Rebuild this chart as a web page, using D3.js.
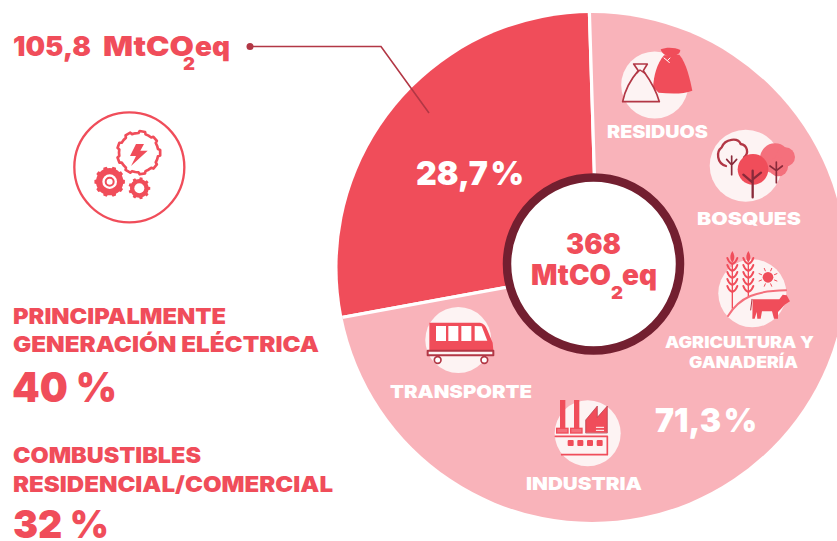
<!DOCTYPE html>
<html><head><meta charset="utf-8">
<script src="https://cdn.jsdelivr.net/npm/d3@7"></script>
<style>html,body{margin:0;padding:0;background:#fff;overflow:hidden}svg{display:block}
text{font-family:Inter,"Open Sans",sans-serif;font-weight:900}</style></head>
<body><svg id="c" width="837" height="541"></svg>
<script>
// Sector shares as published, and the shares as actually drawn in the picture
const sectorNames = ["Energía", "Otros sectores"];
const publishedPercent = ["28,7 %", "71,3 %"];
const drawnShare = [27.4, 72.6];
const sliceColors = ["#f04d5a", "#f9b3ba"];
const totalValue = "368";
const calloutValue = "105,8";
const unitParts = ["MtCO", "2", "eq"];
const sectorLabels = ["RESIDUOS", "BOSQUES", "AGRICULTURA Y", "GANADERÍA", "TRANSPORTE", "INDUSTRIA"];
const sideTitles = ["PRINCIPALMENTE", "GENERACIÓN ELÉCTRICA", "COMBUSTIBLES", "RESIDENCIAL/COMERCIAL"];
const sideValues = ["40 %", "32 %"];

const RED = "#f04d5a", DARK = "#731f30", MID = "#b23745", SALMON = "#f4707c", PALE = "#fdf3f3";
const svg = d3.select("#c");
const defs = svg.append("defs");
defs.append("clipPath").attr("id", "disc").append("circle").attr("cx", 592).attr("cy", 267.5).attr("r", 254.5);

// pie
const rad = d => d * Math.PI / 180;
const pie = d3.pie().sort(null).startAngle(rad(-100.4)).endAngle(rad(259.6));
const arc = d3.arc().innerRadius(0).outerRadius(340);
svg.append("g").attr("clip-path", "url(#disc)")
  .append("g").attr("transform", "translate(597.35,270.7)")
  .selectAll("path").data(pie(drawnShare)).join("path")
  .attr("d", arc).attr("fill", (d, i) => sliceColors[i])
  .attr("stroke", "#fff").attr("stroke-width", 3.2);

// icon discs
[[654.7, 85, 33.5], [745.7, 165.7, 36], [752.3, 293.3, 34], [458.3, 340, 33], [587.7, 433.3, 33]].forEach(c =>
  svg.append("circle").attr("cx", c[0]).attr("cy", c[1]).attr("r", c[2]).attr("fill", PALE));

function layer(x, y) { return svg.append("g").attr("transform", `translate(${x},${y}) scale(${1 / 3})`); }
function p(g, d, fill, stroke, w) {
  return g.append("path").attr("d", d).attr("fill", fill || "none").attr("stroke", stroke || "none")
    .attr("stroke-width", w || 0).attr("stroke-linecap", "round").attr("stroke-linejoin", "round");
}
// residuos
{ const g = layer(590, 40);
  p(g, "M222 46 C200 72 192 105 189 142 L206 158 C240 161 280 163 307 152 C300 118 290 70 268 44 Z", RED);
  p(g, "M212 28 C230 20 255 22 271 30 C270 42 258 48 242 49 C228 49 216 42 212 28Z", RED);
  p(g, "M222 54 L232 62 L240 54 M232 62 L238 68", null, "#fff", 3);
  p(g, "M131 72 L172 72 L160 92 C180 120 200 155 208 185 L98 185 C105 150 125 115 145 92 Z", PALE, MID, 5);
  p(g, "M140 100 L150 90 L165 100", null, MID, 4);
}
// bosques
{ const g = layer(590, 40);
  p(g, "M408 378 C380 370 378 335 395 322 C405 295 445 292 452 312 C472 315 478 340 462 352", null, MID, 7);
  p(g, "M425 348 L425 404 M410 358 L425 375 M440 358 L425 375", null, "#8a2a3a", 5);
  g.append("circle").attr("cx", 555).attr("cy", 355).attr("r", 45).attr("fill", SALMON);
  g.append("circle").attr("cx", 586).attr("cy", 351).attr("r", 29).attr("fill", SALMON);
  g.append("circle").attr("cx", 565).attr("cy", 380).attr("r", 29).attr("fill", SALMON);
  p(g, "M559 366 L559 428 M540 378 L559 392 M577 378 L559 392", null, "#8a2a3a", 5);
  g.append("circle").attr("cx", 489).attr("cy", 388).attr("r", 46).attr("fill", RED);
  p(g, "M488 392 L488 472 M460 404 L488 428 M513 398 L488 418", null, "#8a2a3a", 7);
}
// agricultura
{ const g = layer(640, 240);
  [277, 325].forEach(x => {
    p(g, `M${x} 70 L${x} ${x === 277 ? 205 : 170}`, null, RED, 4);
    p(g, `M${x} 33 C${x + 8} 45 ${x + 8} 58 ${x} 68 C${x - 8} 58 ${x - 8} 45 ${x} 33Z`, RED);
    d3.range(5).forEach(i => {
      const y = 54 + i * 21;
      p(g, `M${x - 15} ${y} C${x - 12} ${y + 10} ${x - 6} ${y + 15} ${x - 2} ${y + 17}`, null, RED, 6);
      p(g, `M${x + 15} ${y} C${x + 12} ${y + 10} ${x + 6} ${y + 15} ${x + 2} ${y + 17}`, null, RED, 6);
    });
  });
  p(g, "M264 228 C300 170 350 152 438 151", null, SALMON, 6);
  g.append("circle").attr("cx", 384).attr("cy", 112).attr("r", 16).attr("fill", RED);
  d3.range(8).forEach(i => {
    const a = i * Math.PI / 4 + Math.PI / 8, c = Math.cos(a), s = Math.sin(a);
    p(g, `M${384 + 21 * c} ${112 + 21 * s} L${384 + 29 * c} ${112 + 29 * s}`, null, RED, 3);
  });
  p(g, "M338 178 L418 178 L428 164 L440 166 L450 184 L434 194 L422 208 L414 216 L414 236 L402 236 L396 214 L366 214 L362 236 L352 236 L350 216 L344 236 L337 236 Z", RED);
  p(g, "M336 178 L332 210", null, MID, 3);
}
// transporte
{ const g = layer(400, 300);
  p(g, "M88 68 L240 68 Q255 70 262 90 L278 128 L280 150 L88 150 Z", RED);
  [108, 145, 184].forEach(x => g.append("rect").attr("x", x).attr("y", 78).attr("width", 30).attr("height", 45).attr("fill", "#fff"));
  p(g, "M224 78 L245 79 L262 122 L224 122 Z", "#fff");
  p(g, "M83 152 L83 166 L280 166 L280 152 Z", PALE, MID, 6);
  [113, 253].forEach(x => g.append("circle").attr("cx", x).attr("cy", 180).attr("r", 10).attr("fill", "#fff").attr("stroke", MID).attr("stroke-width", 5));
}
// industria
{ const g = layer(400, 300);
  [480, 522].forEach(x => {
    g.append("rect").attr("x", x).attr("y", 300).attr("width", 16).attr("height", 85).attr("fill", RED);
    g.append("rect").attr("x", x - 10).attr("y", 385).attr("width", 34).attr("height", 14).attr("fill", SALMON).attr("stroke", RED).attr("stroke-width", 4);
  });
  p(g, "M557 398 L557 360 L592 318 L592 352 L622 318 L622 398 Z", RED, MID, 2);
  p(g, "M589 382 L611 382 M589 391 L611 391", null, "#fff", 3);
  p(g, "M466 409 L622 409 L622 464 L485 464", null, RED, 5);
  [503, 532, 561, 590].forEach(x => g.append("rect").attr("x", x).attr("y", 420).attr("width", 18).attr("height", 18).attr("rx", 3).attr("fill", RED));
}
// energy icon
function gear(cx, cy, n, rIn, rOut) {
  const pts = [], st = Math.PI * 2 / n;
  for (let i = 0; i < n; i++) {
    const a = i * st;
    [[-.5, rIn], [-.26, rIn], [-.18, rOut], [.18, rOut], [.26, rIn]].forEach(q =>
      pts.push([cx + q[1] * Math.cos(a + q[0] * st), cy + q[1] * Math.sin(a + q[0] * st)]));
  }
  return d3.line()(pts) + "Z";
}
{ const g = layer(60, 100);
  g.append("circle").attr("cx", 208).attr("cy", 202).attr("r", 165).attr("fill", "none").attr("stroke", RED).attr("stroke-width", 7);
  p(g, gear(236, 158, 9, 59, 65), null, RED, 8);
  p(g, "M228 132 L252 132 L241 152 L263 152 L213 198 L228 168 L210 168 Z", RED);
  p(g, gear(149, 245, 10, 41, 46), RED);
  g.append("circle").attr("cx", 149).attr("cy", 245).attr("r", 22).attr("fill", "#fff");
  g.append("circle").attr("cx", 149).attr("cy", 245).attr("r", 12).attr("fill", "none").attr("stroke", RED).attr("stroke-width", 6);
  p(g, gear(238, 265, 9, 28, 33), RED);
  g.append("circle").attr("cx", 238).attr("cy", 265).attr("r", 15).attr("fill", "#fff");
}
// leader
svg.append("path").attr("d", "M250 46.5 L381 46.5 L429 113").attr("fill", "none").attr("stroke", MID).attr("stroke-width", 1.6);
svg.append("circle").attr("cx", 250).attr("cy", 46.5).attr("r", 3.5).attr("fill", MID);

// centre
svg.append("circle").attr("cx", 593.5).attr("cy", 264).attr("r", 86.5).attr("fill", "#fff").attr("stroke", DARK).attr("stroke-width", 8.5);

function txt(s, x0, x1, base, size, fill, ws) {
  svg.append("text").attr("x", x0).attr("y", base).attr("font-size", size).attr("fill", fill)
    .attr("word-spacing", ws || 0)
    .attr("textLength", x1 - x0).attr("lengthAdjust", "spacingAndGlyphs").text(s);
}
const W = "#fff";
txt(calloutValue, 13, 91, 55.5, 27, RED);
txt(unitParts[0], 103, 194, 55.5, 27, RED);
txt(unitParts[1], 183, 195, 70, 18, RED);
txt(unitParts[2], 195, 230, 55.5, 27, RED);
txt(publishedPercent[0], 416, 524, 185, 33, W, -4);
txt(publishedPercent[1], 655, 757, 432, 33, W, -4);
txt(totalValue, 566, 621, 254, 28, RED);
txt(unitParts[0], 531, 611, 285, 28, RED);
txt(unitParts[1], 611, 623, 299, 18, RED);
txt(unitParts[2], 622, 657, 285, 28, RED);
const labelBox = [[607, 708, 138, 17], [697, 801, 225, 18], [665, 814, 348, 15.5], [689, 798, 368, 15.5], [390, 532, 398, 18], [526, 642, 490, 18]];
sectorLabels.forEach((s, i) => txt(s, labelBox[i][0], labelBox[i][1], labelBox[i][2], labelBox[i][3], W));
const sideBox = [[13, 226, 324], [13, 319, 352], [13, 201, 463], [13, 333, 492]];
sideTitles.forEach((s, i) => txt(s, sideBox[i][0], sideBox[i][1], sideBox[i][2], 21.5, RED));
txt(sideValues[0], 12, 117, 402, 41, RED);
txt(sideValues[1], 13, 109, 537.5, 39, RED);
</script></body></html>
